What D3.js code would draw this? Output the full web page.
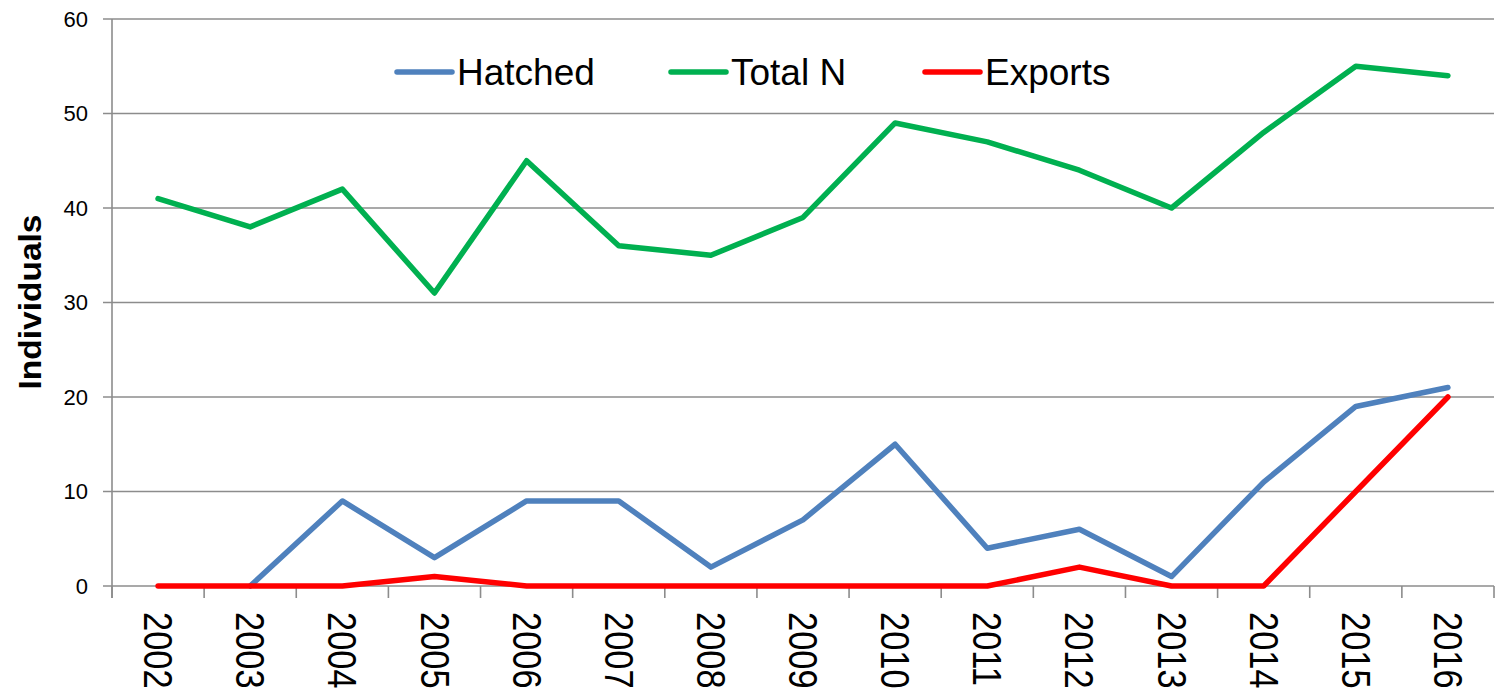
<!DOCTYPE html>
<html><head><meta charset="utf-8">
<script src="https://cdn.jsdelivr.net/npm/d3@7"></script>
<style>body{margin:0;background:#fff}svg{display:block}</style>
</head><body>
<svg id="c" width="1495" height="694"></svg>
<script>
const years = ["2002","2003","2004","2005","2006","2007","2008","2009","2010","2011","2012","2013","2014","2015","2016"];
const hatched = [null,0,9,3,9,9,2,7,15,4,6,1,11,19,21];
const totalN = [41,38,42,31,45,36,35,39,49,47,44,40,48,55,54];
const exportsV = [0,0,0,1,0,0,0,0,0,0,2,0,0,10,20];
const yTicks = [0,10,20,30,40,50,60];
const seriesNames = ["Hatched","Total N","Exports"];
const seriesColors = ["#4F81BD","#00B050","#FF0000"];

const svg = d3.select("#c");
const pL = 112, pR = 1494, pT = 19, pB = 586;
const x = d3.scaleBand().domain(years).range([pL, pR]);
const y = d3.scaleLinear().domain([0,60]).range([pB, pT]);
const font = "'Liberation Sans', Arial, sans-serif";

svg.append("g").selectAll("line").data(yTicks).join("line")
  .attr("x1", pL - 9).attr("x2", pR).attr("y1", d=>y(d)).attr("y2", d=>y(d))
  .attr("stroke", "#8c8c8c").attr("stroke-width", 1.6);
svg.append("line").attr("x1", pL).attr("x2", pL).attr("y1", pT).attr("y2", pB + 12)
  .attr("stroke", "#8c8c8c").attr("stroke-width", 1.6);
const xt = years.map(d=>x(d)).concat([pR]);
svg.append("g").selectAll("line").data(xt).join("line")
  .attr("x1", d=>d).attr("x2", d=>d).attr("y1", pB).attr("y2", pB + 12)
  .attr("stroke", "#8c8c8c").attr("stroke-width", 1.6);
svg.append("g").selectAll("text").data(yTicks).join("text")
  .attr("x", 88).attr("y", d=>y(d)).attr("text-anchor","end").attr("dominant-baseline","central")
  .attr("font-family", font).attr("font-size", 22).attr("fill","#000").text(d=>d);
svg.append("g").selectAll("text").data(years).join("text")
  .attr("transform", d=>`translate(${x(d)+x.bandwidth()/2},612) rotate(90) scale(0.86,1)`)
  .attr("dominant-baseline","central")
  .attr("font-family", font).attr("font-size", 40).attr("fill","#000").text(d=>d);
svg.append("text").attr("transform","translate(30,302) rotate(-90)")
  .attr("text-anchor","middle").attr("dominant-baseline","central")
  .attr("font-family", font).attr("font-weight","bold").attr("font-size", 31)
  .attr("textLength", 175).attr("lengthAdjust","spacingAndGlyphs").text("Individuals");

const line = d3.line().defined(d=>d.v!==null).x(d=>x(d.yr)+x.bandwidth()/2).y(d=>y(d.v));
[hatched,totalN,exportsV].forEach((arr,k)=>{
  svg.append("path").datum(arr.map((v,i)=>({yr:years[i],v})))
    .attr("d", line).attr("fill","none").attr("stroke", seriesColors[k])
    .attr("stroke-width", 5.5).attr("stroke-linejoin","round").attr("stroke-linecap","round");
});

const legX = [397, 671, 925];
seriesNames.forEach((n,k)=>{
  svg.append("line").attr("x1", legX[k]).attr("x2", legX[k]+55).attr("y1", 72).attr("y2", 72)
    .attr("stroke", seriesColors[k]).attr("stroke-width", 5.5).attr("stroke-linecap","round");
  svg.append("text").attr("x", legX[k]+60).attr("y", 72).attr("dominant-baseline","central")
    .attr("font-family", font).attr("font-size", 37).attr("fill","#000").text(n);
});
</script>
</body></html>
